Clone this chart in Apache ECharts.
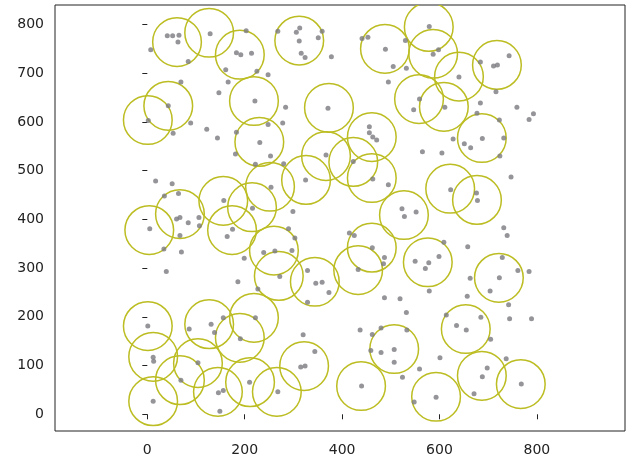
<!DOCTYPE html>
<html>
<head>
<meta charset="utf-8">
<script src="https://cdn.jsdelivr.net/npm/echarts@6/dist/echarts.min.js"></script>
<style>
  html, body { margin: 0; padding: 0; background: #fff; }
  #main { width: 626px; height: 459px; }
</style>
</head>
<body>
<div id="main"></div>
<script>
// tick labels
const xTicks = [0, 200, 400, 600, 800];
const yTicks = [0, 100, 200, 300, 400, 500, 600, 700, 800];

// circle centres (radius 50 in data units)
const circleRadius = 50;
const circleCenters = [
  [61, 764], [127, 783], [190, 738], [312, 767], [1, 604], [43, 633], [219, 643], [230, 559],
  [252, 467], [156, 438], [215, 425], [326, 481], [4, 378], [67, 411], [174, 378], [260, 336],
  [270, 284], [344, 272], [433, 296], [461, 342], [527, 409], [576, 312], [1, 181], [12, 118],
  [12, 27], [67, 70], [104, 105], [127, 185], [190, 157], [219, 198], [145, 46], [211, 66],
  [266, 46], [322, 99], [439, 58], [507, 134], [593, 36], [654, 175], [687, 79], [767, 62],
  [722, 280], [677, 440], [622, 463], [488, 750], [578, 795], [587, 740], [640, 693], [718, 717],
  [558, 647], [609, 631], [687, 567], [373, 629], [461, 569], [367, 530], [423, 518], [461, 485]
];

// scattered grey points
const points = [
  [41, 777], [52, 777], [65, 778], [63, 764], [7, 748], [84, 724], [129, 781], [69, 682],
  [147, 660], [43, 633], [2, 603], [89, 598], [53, 577], [122, 585], [144, 567], [17, 479],
  [51, 473], [35, 448], [64, 453], [60, 401], [67, 404], [84, 393], [106, 404], [107, 387],
  [5, 381], [67, 367], [34, 339], [70, 333], [39, 293], [1, 181], [86, 175], [131, 185],
  [138, 168], [12, 117], [13, 109], [104, 106], [69, 70], [12, 27], [146, 44], [156, 49],
  [149, 6], [175, 380], [164, 365], [290, 381], [303, 362], [239, 332], [262, 335], [297, 336],
  [199, 320], [272, 283], [186, 272], [227, 257], [329, 295], [346, 269], [359, 271], [373, 250],
  [329, 230], [156, 198], [222, 198], [191, 155], [320, 163], [344, 129], [315, 97], [324, 99],
  [210, 66], [268, 46], [203, 787], [183, 742], [192, 738], [214, 741], [161, 707], [225, 704],
  [248, 697], [166, 682], [221, 643], [284, 630], [371, 628], [248, 595], [278, 598], [183, 579],
  [231, 558], [181, 534], [253, 530], [222, 513], [280, 514], [325, 481], [254, 466], [157, 439],
  [216, 423], [299, 416], [268, 786], [306, 784], [313, 793], [312, 766], [316, 741], [324, 732],
  [359, 786], [351, 773], [378, 734], [441, 771], [453, 774], [489, 749], [530, 767], [505, 714],
  [532, 710], [495, 682], [579, 796], [587, 739], [598, 748], [559, 647], [547, 625], [456, 590],
  [456, 578], [463, 569], [471, 563], [565, 539], [367, 532], [423, 519], [463, 483], [495, 471],
  [523, 422], [552, 415], [528, 406], [684, 723], [711, 715], [719, 717], [743, 736], [640, 692],
  [716, 662], [684, 639], [677, 618], [611, 630], [759, 630], [784, 605], [793, 617], [723, 604],
  [732, 567], [688, 566], [628, 565], [651, 555], [664, 547], [724, 530], [605, 536], [747, 487],
  [623, 461], [676, 454], [678, 439], [415, 372], [425, 367], [462, 342], [487, 322], [485, 309],
  [433, 297], [550, 314], [578, 311], [571, 299], [579, 253], [487, 239], [519, 237], [532, 209],
  [437, 173], [462, 164], [480, 177], [533, 173], [459, 131], [480, 127], [507, 133], [507, 107],
  [559, 93], [524, 76], [440, 58], [548, 25], [593, 35], [732, 383], [739, 367], [609, 353],
  [658, 344], [599, 324], [729, 322], [761, 295], [784, 293], [723, 280], [663, 279], [704, 253],
  [657, 242], [742, 225], [744, 196], [789, 196], [614, 204], [635, 182], [655, 173], [685, 199],
  [705, 154], [601, 116], [737, 114], [698, 95], [688, 77], [671, 42], [768, 62]
];

const labelStyle = { color: '#222', fontSize: 14, fontFamily: 'DejaVu Sans' };

const option = {
  animation: false,
  grid: {
    left: 55, right: 1, top: 5, bottom: 28,
    show: true, borderColor: '#222', borderWidth: 1, backgroundColor: '#fff'
  },
  xAxis: {
    type: 'value', min: -189.6, max: 981,
    axisLine: { show: false },
    splitLine: { show: false },
    axisTick: { show: true, inside: false, length: 5, customValues: xTicks, lineStyle: { color: '#222' } },
    axisLabel: { ...labelStyle, margin: 12, customValues: xTicks }
  },
  yAxis: {
    type: 'value', min: -34.3, max: 840,
    axisLine: { show: false },
    splitLine: { show: false },
    axisTick: { show: true, inside: false, length: 5, customValues: yTicks, lineStyle: { color: '#222' } },
    axisLabel: { ...labelStyle, margin: 11, customValues: yTicks }
  },
  series: [
    {
      type: 'scatter',
      data: points,
      symbolSize: 5,
      itemStyle: { color: '#7a7a80' },
      silent: true
    },
    {
      type: 'custom',
      data: circleCenters,
      clip: true,
      renderItem: function (params, api) {
        const c = api.coord([api.value(0), api.value(1)]);
        const r = api.size([circleRadius, circleRadius])[0];
        return {
          type: 'circle',
          shape: { cx: c[0], cy: c[1], r: r },
          style: { fill: 'none', stroke: '#bcbd22', lineWidth: 1.5 }
        };
      }
    }
  ]
};

const myChart = echarts.init(document.getElementById('main'));
myChart.setOption(option);
</script>
</body>
</html>
